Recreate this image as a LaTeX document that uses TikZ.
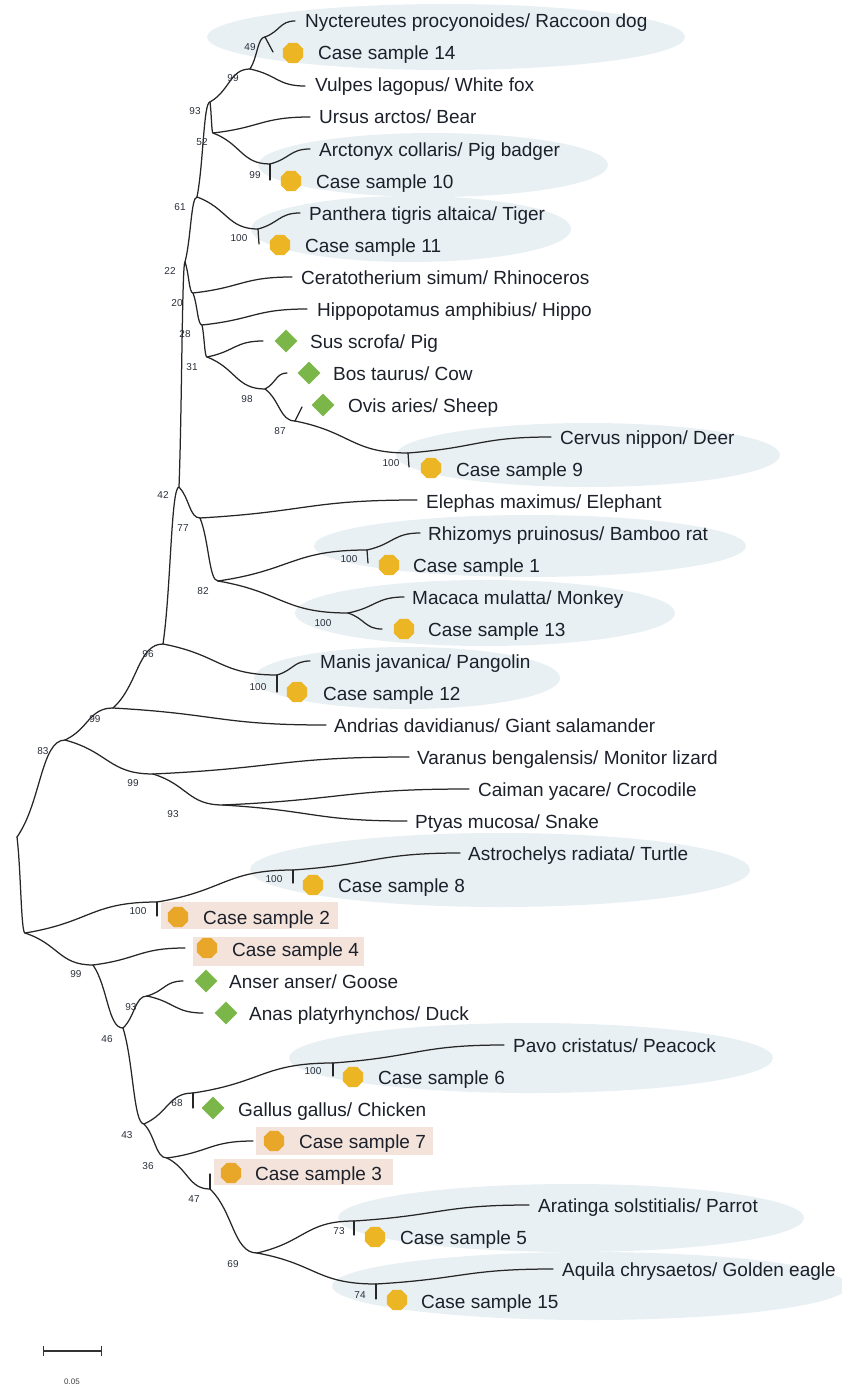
\documentclass[tikz,border=0pt]{standalone}
\usepackage{fontspec}
\setmainfont{Liberation Sans}
\usepackage{tikz}
\usetikzlibrary{calc}
\usetikzlibrary{shapes.geometric}
\usetikzlibrary{arrows.meta}

\definecolor{bubblecol}{RGB}{233,240,243}
\definecolor{pinkcol}{RGB}{244,227,219}
\definecolor{goldcol}{RGB}{236,181,35}
\definecolor{ambercol}{RGB}{233,167,42}
\definecolor{greencol}{RGB}{122,183,72}
\definecolor{bootcol}{RGB}{40,46,58}
\definecolor{inkcol}{RGB}{28,32,42}

\tikzset{
	twig/.style={line width=1.25pt, draw=black!85, line cap=round},
	curvy/.style={to path={let \p1=(\tikztostart), \p2=(\tikztotarget) in
		.. controls ({0.5*\x1+0.5*\x2},{0.65*\y1+0.35*\y2}) and ({0.5*\x1+0.5*\x2},\y2) .. (\tikztotarget)}},
	bootval/.style={font=\fontsize{10}{12}\selectfont, text=bootcol, inner sep=0pt, anchor=base},
	taxon/.style={font=\fontsize{19}{22}\selectfont, text=inkcol, inner sep=0pt, anchor=base west},
	octo/.style={regular polygon, regular polygon sides=8, minimum size=22pt, inner sep=0pt, fill=goldcol},
	gem/.style={diamond, aspect=1, minimum width=23pt, minimum height=23pt, inner sep=0pt, fill=greencol},
	bubble/.style={fill=bubblecol},
	hilite/.style={fill=pinkcol}
}

\begin{document}
\begin{tikzpicture}[x=1pt, y=-1pt]
			\useasboundingbox (0,0) rectangle (841,1386);

			\fill[bubble] (446,37) ellipse [x radius=239pt, y radius=33pt];
			\fill[bubble] (433,165) ellipse [x radius=175pt, y radius=32pt];
			\fill[bubble] (411,229) ellipse [x radius=160pt, y radius=33pt];
			\fill[bubble] (588,455) ellipse [x radius=192pt, y radius=32pt];
			\fill[bubble] (530,546) ellipse [x radius=216pt, y radius=31pt];
			\fill[bubble] (485,613) ellipse [x radius=190pt, y radius=33pt];
			\fill[bubble] (407,678) ellipse [x radius=153pt, y radius=31pt];
			\fill[bubble] (500,870) ellipse [x radius=250pt, y radius=37pt];
			\fill[bubble] (531,1058) ellipse [x radius=242pt, y radius=35pt];
			\fill[bubble] (571,1218) ellipse [x radius=233pt, y radius=34pt];
			\fill[bubble] (590,1286) ellipse [x radius=258pt, y radius=34pt];
			\fill[hilite] (161,902) rectangle (338,929);
			\fill[hilite] (193,937) rectangle (364,966);
			\fill[hilite] (256,1127) rectangle (433,1155);
			\fill[hilite] (214,1159) rectangle (393,1185);

			% internal nodes
			\coordinate (root) at (17,837);
			\coordinate (nlow) at (25,933);
			\coordinate (n83) at (65,740);
			\coordinate (n99s) at (113,708);
			\coordinate (n96) at (163,644);
			\coordinate (n42) at (179,487);
			\coordinate (n22) at (185,262);
			\coordinate (n61) at (197,197);
			\coordinate (n93) at (210,102);
			\coordinate (n99a) at (250,69);
			\coordinate (n49) at (265,37);
			\coordinate (n52) at (213,133);
			\coordinate (n99b) at (270,164);
			\coordinate (n100t) at (258,229);
			\coordinate (n20) at (193,293);
			\coordinate (n28) at (202,325);
			\coordinate (n31) at (207,357);
			\coordinate (n98) at (265,389);
			\coordinate (n87) at (295,421);
			\coordinate (n100c) at (408,453);
			\coordinate (n77) at (200,518);
			\coordinate (n82) at (218,581);
			\coordinate (n100r) at (367,550);
			\coordinate (n100m) at (348,613);
			\coordinate (n100p) at (277,675);
			\coordinate (n99r) at (153,774);
			\coordinate (n93r) at (223,805);
			\coordinate (n100b) at (157,902);
			\coordinate (n100a) at (293,870);
			\coordinate (n99g) at (93,965);
			\coordinate (n46) at (123,1028);
			\coordinate (n93g) at (147,996);
			\coordinate (n43) at (144,1124);
			\coordinate (n68) at (193,1093);
			\coordinate (n100k) at (333,1063);
			\coordinate (n36) at (167,1158);
			\coordinate (n47) at (210,1189);
			\coordinate (n69) at (257,1253);
			\coordinate (n73) at (354,1221);
			\coordinate (n74) at (376,1284);

			% branch ends
			\coordinate (raccoon) at (295,21);
			\coordinate (cs14) at (273,52);
			\coordinate (fox) at (305,86);
			\coordinate (bear) at (310,117);
			\coordinate (badger) at (310,149);
			\coordinate (cs10) at (270,180);
			\coordinate (tiger) at (300,213);
			\coordinate (cs11) at (259,244);
			\coordinate (rhino) at (292,277);
			\coordinate (hippo) at (307,309);
			\coordinate (pig) at (263,341);
			\coordinate (cow) at (287,373);
			\coordinate (sheep) at (302,407);
			\coordinate (deer) at (551,437);
			\coordinate (cs9) at (409,467);
			\coordinate (elephant) at (417,500);
			\coordinate (bamrat) at (420,533);
			\coordinate (cs1) at (368,563);
			\coordinate (monkey) at (404,597);
			\coordinate (cs13) at (382,629);
			\coordinate (pangolin) at (310,661);
			\coordinate (cs12) at (277,692);
			\coordinate (salam) at (326,725);
			\coordinate (lizard) at (409,757);
			\coordinate (croc) at (469,789);
			\coordinate (snake) at (407,821);
			\coordinate (turtle) at (460,853);
			\coordinate (cs8) at (293,883);
			\coordinate (cs2) at (157,916);
			\coordinate (cs4) at (185,948);
			\coordinate (goose) at (183,981);
			\coordinate (duck) at (203,1013);
			\coordinate (peacock) at (504,1045);
			\coordinate (cs6) at (333,1076);
			\coordinate (chicken) at (193,1108);
			\coordinate (cs7) at (253,1141);
			\coordinate (cs3) at (210,1174);
			\coordinate (parrot) at (529,1205);
			\coordinate (cs5) at (354,1235);
			\coordinate (eagle) at (553,1269);
			\coordinate (cs15) at (376,1299);

			\begin{scope}[twig]
			\draw (root) to[curvy] (n83);
			\draw (root) to[curvy] (nlow);
			\draw (n83) to[curvy] (n99s);
			\draw (n83) to[curvy] (n99r);
			\draw (n99s) to[curvy] (n96);
			\draw (n99s) to[curvy] (salam);
			\draw (n96) to[curvy] (n42);
			\draw (n96) to[curvy] (n100p);
			\draw (n42) to[curvy] (n22);
			\draw (n42) to[curvy] (n77);
			\draw (n22) to[curvy] (n61);
			\draw (n22) to[curvy] (n20);
			\draw (n61) to[curvy] (n93);
			\draw (n61) to[curvy] (n100t);
			\draw (n93) to[curvy] (n99a);
			\draw (n93) to[curvy] (n52);
			\draw (n99a) to[curvy] (n49);
			\draw (n99a) to[curvy] (fox);
			\draw (n49) to[curvy] (raccoon);
			\draw (n49) -- (cs14);
			\draw (n52) to[curvy] (bear);
			\draw (n52) to[curvy] (n99b);
			\draw (n99b) to[curvy] (badger);
			\draw (n99b) -- (cs10);
			\draw (n100t) to[curvy] (tiger);
			\draw (n100t) -- (cs11);
			\draw (n20) to[curvy] (rhino);
			\draw (n20) to[curvy] (n28);
			\draw (n28) to[curvy] (hippo);
			\draw (n28) to[curvy] (n31);
			\draw (n31) to[curvy] (pig);
			\draw (n31) to[curvy] (n98);
			\draw (n98) to[curvy] (cow);
			\draw (n98) to[curvy] (n87);
			\draw (n87) -- (sheep);
			\draw (n87) to[curvy] (n100c);
			\draw (n100c) to[curvy] (deer);
			\draw (n100c) -- (cs9);
			\draw (n77) to[curvy] (elephant);
			\draw (n77) to[curvy] (n82);
			\draw (n82) to[curvy] (n100r);
			\draw (n82) to[curvy] (n100m);
			\draw (n100r) to[curvy] (bamrat);
			\draw (n100r) -- (cs1);
			\draw (n100m) to[curvy] (monkey);
			\draw (n100m) to[curvy] (cs13);
			\draw (n100p) to[curvy] (pangolin);
			\draw (n100p) -- (cs12);
			\draw (n99r) to[curvy] (lizard);
			\draw (n99r) to[curvy] (n93r);
			\draw (n93r) to[curvy] (croc);
			\draw (n93r) to[curvy] (snake);
			\draw (nlow) to[curvy] (n100b);
			\draw (nlow) to[curvy] (n99g);
			\draw (n100b) to[curvy] (n100a);
			\draw (n100b) -- (cs2);
			\draw (n100a) to[curvy] (turtle);
			\draw (n100a) -- (cs8);
			\draw (n99g) to[curvy] (cs4);
			\draw (n99g) to[curvy] (n46);
			\draw (n46) to[curvy] (n93g);
			\draw (n46) to[curvy] (n43);
			\draw (n93g) to[curvy] (goose);
			\draw (n93g) to[curvy] (duck);
			\draw (n43) to[curvy] (n68);
			\draw (n43) to[curvy] (n36);
			\draw (n68) to[curvy] (n100k);
			\draw (n68) -- (chicken);
			\draw (n100k) to[curvy] (peacock);
			\draw (n100k) -- (cs6);
			\draw (n36) to[curvy] (cs7);
			\draw (n36) to[curvy] (n47);
			\draw (n47) -- (cs3);
			\draw (n47) to[curvy] (n69);
			\draw (n69) to[curvy] (n73);
			\draw (n69) to[curvy] (n74);
			\draw (n73) to[curvy] (parrot);
			\draw (n73) -- (cs5);
			\draw (n74) to[curvy] (eagle);
			\draw (n74) -- (cs15);
			\end{scope}

			% bootstrap values
			\node[bootval] (b49) at (250,51) {49};
			\node[bootval] (b99a) at (233,82) {99};
			\node[bootval] (b93) at (195,114) {93};
			\node[bootval] (b52) at (202,146) {52};
			\node[bootval] (b99b) at (255,178) {99};
			\node[bootval] (b61) at (180,210) {61};
			\node[bootval] (b100t) at (239,241) {100};
			\node[bootval] (b22) at (170,274) {22};
			\node[bootval] (b20) at (177,306) {20};
			\node[bootval] (b28) at (185,337) {28};
			\node[bootval] (b31) at (192,370) {31};
			\node[bootval] (b98) at (247,402) {98};
			\node[bootval] (b87) at (280,434) {87};
			\node[bootval] (b100c) at (391,466) {100};
			\node[bootval] (b42) at (163,498) {42};
			\node[bootval] (b77) at (183,531) {77};
			\node[bootval] (b100r) at (349,562) {100};
			\node[bootval] (b82) at (203,594) {82};
			\node[bootval] (b100m) at (323,626) {100};
			\node[bootval] (b96) at (148,657) {96};
			\node[bootval] (b100p) at (258,690) {100};
			\node[bootval] (b99s) at (95,722) {99};
			\node[bootval] (b83) at (43,754) {83};
			\node[bootval] (b99r) at (133,786) {99};
			\node[bootval] (b93r) at (173,817) {93};
			\node[bootval] (b100a) at (274,882) {100};
			\node[bootval] (b100b) at (138,914) {100};
			\node[bootval] (b99g) at (76,977) {99};
			\node[bootval] (b93g) at (131,1010) {93};
			\node[bootval] (b46) at (107,1042) {46};
			\node[bootval] (b100k) at (313,1074) {100};
			\node[bootval] (b68) at (177,1106) {68};
			\node[bootval] (b43) at (127,1138) {43};
			\node[bootval] (b36) at (148,1169) {36};
			\node[bootval] (b47) at (194,1202) {47};
			\node[bootval] (b73) at (339,1234) {73};
			\node[bootval] (b69) at (233,1267) {69};
			\node[bootval] (b74) at (360,1298) {74};

			% markers
			\node[octo] (m14) at (293,53) {};
			\node[octo] (m10) at (291,181) {};
			\node[octo] (m11) at (280,245) {};
			\node[gem] (mpig) at (286,341) {};
			\node[gem] (mcow) at (309,373) {};
			\node[gem] (msheep) at (323,405) {};
			\node[octo] (m9) at (431,468) {};
			\node[octo] (m1) at (389,565) {};
			\node[octo] (m13) at (404,629) {};
			\node[octo] (m12) at (297,692) {};
			\node[octo] (m8) at (313,885) {};
			\node[octo, fill=ambercol] (m2) at (178,917) {};
			\node[octo, fill=ambercol] (m4) at (207,948) {};
			\node[gem] (mgoose) at (206,981) {};
			\node[gem] (mduck) at (226,1013) {};
			\node[octo] (m6) at (353,1077) {};
			\node[gem] (mchicken) at (213,1108) {};
			\node[octo, fill=ambercol] (m7) at (274,1141) {};
			\node[octo, fill=ambercol] (m3) at (231,1173) {};
			\node[octo] (m5) at (375,1237) {};
			\node[octo] (m15) at (397,1300) {};

			% taxa
			\node[taxon] (traccoon) at (305,28) {Nyctereutes procyonoides/ Raccoon dog};
			\node[taxon] (t14) at (318,60) {Case sample 14};
			\node[taxon] (tfox) at (315,92) {Vulpes lagopus/ White fox};
			\node[taxon] (tbear) at (319,124) {Ursus arctos/ Bear};
			\node[taxon] (tbadger) at (319,156) {Arctonyx collaris/ Pig badger};
			\node[taxon] (t10) at (316,188) {Case sample 10};
			\node[taxon] (ttiger) at (309,220) {Panthera tigris altaica/ Tiger};
			\node[taxon] (t11) at (305,252) {Case sample 11};
			\node[taxon] (trhino) at (301,284) {Ceratotherium simum/ Rhinoceros};
			\node[taxon] (thippo) at (317,316) {Hippopotamus amphibius/ Hippo};
			\node[taxon] (tpig) at (310,348) {Sus scrofa/ Pig};
			\node[taxon] (tcow) at (333,380) {Bos taurus/ Cow};
			\node[taxon] (tsheep) at (348,412) {Ovis aries/ Sheep};
			\node[taxon] (tdeer) at (560,444) {Cervus nippon/ Deer};
			\node[taxon] (t9) at (456,476) {Case sample 9};
			\node[taxon] (telephant) at (426,508) {Elephas maximus/ Elephant};
			\node[taxon] (tbamrat) at (428,540) {Rhizomys pruinosus/ Bamboo rat};
			\node[taxon] (t1) at (413,572) {Case sample 1};
			\node[taxon] (tmonkey) at (412,604) {Macaca mulatta/ Monkey};
			\node[taxon] (t13) at (428,636) {Case sample 13};
			\node[taxon] (tpangolin) at (320,668) {Manis javanica/ Pangolin};
			\node[taxon] (t12) at (323,700) {Case sample 12};
			\node[taxon] (tsalam) at (334,732) {Andrias davidianus/ Giant salamander};
			\node[taxon] (tlizard) at (417,764) {Varanus bengalensis/ Monitor lizard};
			\node[taxon] (tcroc) at (478,796) {Caiman yacare/ Crocodile};
			\node[taxon] (tsnake) at (415,828) {Ptyas mucosa/ Snake};
			\node[taxon] (tturtle) at (468,860) {Astrochelys radiata/ Turtle};
			\node[taxon] (t8) at (338,892) {Case sample 8};
			\node[taxon] (t2) at (203,924) {Case sample 2};
			\node[taxon] (t4) at (232,956) {Case sample 4};
			\node[taxon] (tgoose) at (229,988) {Anser anser/ Goose};
			\node[taxon] (tduck) at (249,1020) {Anas platyrhynchos/ Duck};
			\node[taxon] (tpeacock) at (513,1052) {Pavo cristatus/ Peacock};
			\node[taxon] (t6) at (378,1084) {Case sample 6};
			\node[taxon] (tchicken) at (238,1116) {Gallus gallus/ Chicken};
			\node[taxon] (t7) at (299,1148) {Case sample 7};
			\node[taxon] (t3) at (255,1180) {Case sample 3};
			\node[taxon] (tparrot) at (538,1212) {Aratinga solstitialis/ Parrot};
			\node[taxon] (t5) at (400,1244) {Case sample 5};
			\node[taxon] (teagle) at (562,1276) {Aquila chrysaetos/ Golden eagle};
			\node[taxon] (t15) at (421,1308) {Case sample 15};

			% scale
			\coordinate (sbl) at (43,1351);
			\coordinate (sbr) at (102,1351);
			\draw[line width=1.3pt, draw=black!80, {Bar[width=10pt]}-{Bar[width=10pt]}] (sbl) -- (sbr);
			\node[font=\fontsize{8}{10}\selectfont, text=black!75, inner sep=0pt] (sblabel) at (72,1382) {0.05};
\end{tikzpicture}
\end{document}
